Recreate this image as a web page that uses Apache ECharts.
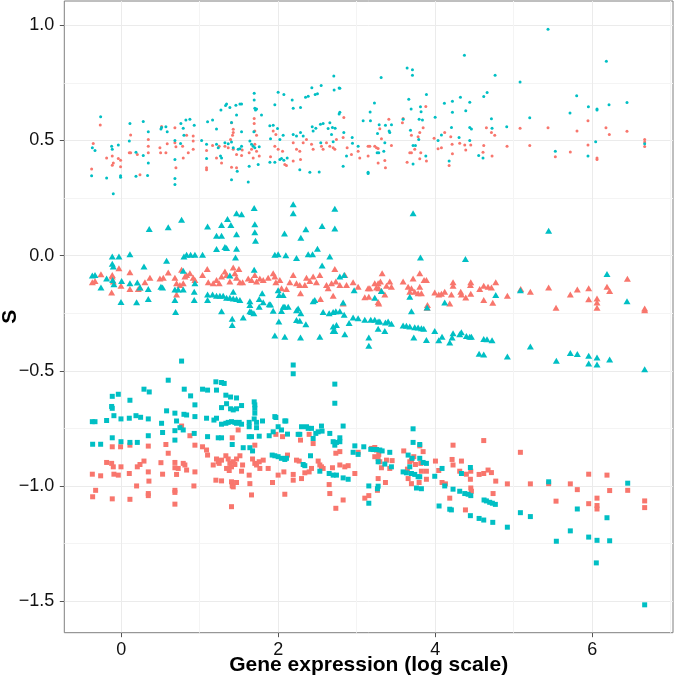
<!DOCTYPE html>
<html><head><meta charset="utf-8">
<script src="https://cdn.jsdelivr.net/npm/echarts@6/dist/echarts.min.js"></script>
<style>html,body{margin:0;padding:0;background:#fff}#c{width:674px;height:679px}</style>
</head><body><div id="c"></div>
<script>
const xMajorTicks = [0, 2, 4, 6];
const xMinorTicks = [1, 3, 5, 7];
const yMajorTicks = [-1.5, -1, -0.5, 0, 0.5, 1];
const yMinorTicks = [-1.25, -0.75, -0.25, 0.25, 0.75];
const xTitle = 'Gene expression (log scale)';
const yTitle = 'S';

const redDots = [
[-0.266,0.567],[-0.355,0.486],[-0.376,0.376],[-0.185,0.424],[-0.113,0.432],[-0.1,0.402],[-0.113,0.392],
[-0.036,0.421],[-0.007,0.414],[-0.007,0.385],[0.121,0.523],[0.104,0.446],[0.121,0.446],[0.206,0.439],[0.24,0.351],
[0.346,0.504],[0.346,0.475],[0.346,0.446],[0.515,0.56],[0.494,0.468],[0.503,0.446],[0.57,0.446],[0.587,0.485],
[0.685,0.555],[0.685,0.49],[0.698,0.381],[0.698,0.472],[0.834,0.522],[0.783,0.475],[0.791,0.424],[0.855,0.446],
[0.918,0.461],[0.918,0.519],[0.918,0.497],[1.088,0.456],[1.088,0.381],[1.088,0.373],[1.165,0.478],[1.215,0.424],
[1.249,0.475],[1.279,0.402],[1.322,0.475],[1.364,0.468],[1.394,0.504],[1.419,0.522],[1.428,0.461],[1.47,0.439],
[1.534,0.434],[1.542,0.458],[1.406,0.383],[1.47,0.381],[1.406,0.577],[1.428,0.548],[1.428,0.534],[1.631,0.446],
[1.661,0.461],[1.703,0.483],[1.725,0.453],[1.759,0.432],[1.682,0.424],[1.695,0.595],[1.695,0.573],[1.703,0.541],
[1.725,0.522],[1.903,0.429],[1.958,0.475],[2.0,0.461],[2.056,0.453],[2.085,0.395],[2.106,0.391],[1.937,0.541],
[1.971,0.526],[2.192,0.49],[2.234,0.461],[2.276,0.453],[2.319,0.49],[2.361,0.504],[2.425,0.483],[2.446,0.461],
[2.552,0.475],[2.573,0.461],[2.616,0.49],[2.658,0.475],[2.701,0.468],[2.722,0.461],[2.743,0.504],[2.828,0.512],
[2.837,0.599],[2.879,0.468],[2.934,0.439],[3.019,0.453],[3.04,0.424],[2.192,0.41],[2.285,0.417],
[3.41,0.592],[3.295,0.551],[3.316,0.507],[3.146,0.475],[3.168,0.475],[3.231,0.475],[3.253,0.468],[3.274,0.465],
[3.146,0.432],[3.274,0.402],[3.359,0.413],[3.367,0.381],[3.443,0.478],[3.583,0.577],[3.592,0.595],[3.698,0.522],
[3.783,0.516],[3.804,0.534],[3.847,0.555],[3.881,0.647],[3.74,0.461],[3.677,0.446],[3.698,0.446],[3.643,0.405],
[3.804,0.42],[3.889,0.41],[3.817,0.446],[3.987,0.509],[4.037,0.464],[4.08,0.468],[4.122,0.534],[4.199,0.516],
[4.216,0.483],[4.313,0.487],[4.377,0.48],[4.39,0.458],[4.454,0.48],[4.22,0.442],[4.178,0.391],[4.619,0.478],
[4.61,0.449],[4.725,0.432],[4.653,0.555],[4.717,0.534],[4.759,0.522],[4.916,0.475],[5.082,0.553],[5.205,0.478],
[5.438,0.555],[5.531,0.429],[5.722,0.45],[5.807,0.541],[5.947,0.585],[5.947,0.48],[6.062,0.424],[6.062,0.417],
[6.176,0.555],[6.219,0.526],[6.444,0.54],[6.669,0.504],[6.669,0.493],[6.669,0.473]
];

const tealDots = [
[-0.261,0.603],[0.112,0.573],[0.282,0.582],[0.346,0.538],[0.507,0.549],[0.515,0.556],[0.57,0.559],[0.587,0.537],
[0.761,0.573],[0.791,0.553],[0.825,0.589],[0.876,0.592],[0.931,0.566],[1.101,0.581],[1.165,0.588],[1.215,0.549],
[1.271,0.632],[1.33,0.651],[1.343,0.658],[1.385,0.643],[1.462,0.652],[1.513,0.658],[1.534,0.658],[1.47,0.61],
[1.406,0.578],[1.695,0.705],[1.695,0.675],[1.703,0.64],[1.725,0.636],[1.712,0.632],[1.788,0.61],[2.0,0.709],
[2.073,0.699],[1.958,0.655],[2.179,0.675],[2.192,0.639],[2.285,0.643],[2.349,0.687],[2.383,0.692],[2.429,0.728],
[2.472,0.699],[2.501,0.702],[2.548,0.738],[2.709,0.779],[2.713,0.719],[2.777,0.727],[2.777,0.614],[2.434,0.559],
[2.48,0.553],[2.637,0.552],[2.692,0.556],[2.726,0.553],[2.659,0.576],[1.894,0.563],[1.937,0.566],[1.992,0.552],
[2.539,0.57],[2.573,0.573],[1.691,0.538],[1.534,0.537],
[5.438,0.982],[4.373,0.869],[6.181,0.843],[3.643,0.814],[3.711,0.807],[3.711,0.783],[3.312,0.773],[4.764,0.783],
[5.082,0.753],[4.662,0.708],[4.619,0.69],[3.889,0.699],[3.664,0.678],[3.694,0.636],[3.813,0.646],[3.821,0.624],
[3.227,0.662],[3.172,0.623],[3.083,0.585],[4.118,0.661],[4.22,0.67],[4.322,0.687],[4.441,0.665],[4.39,0.629],
[4.22,0.622],[4.0,0.6],[4.717,0.594],[4.912,0.559],[5.205,0.598],[5.803,0.694],[5.718,0.619],[5.952,0.646],
[6.062,0.636],[6.062,0.632],[6.215,0.655],[6.444,0.664],[4.441,0.556],[4.462,0.549],[4.208,0.556],[3.686,0.544],
[3.796,0.592],[3.838,0.588],[3.592,0.592],[3.444,0.568],[3.422,0.534],[3.414,0.541],[3.266,0.53],[3.287,0.568],
[3.367,0.566],[3.176,0.585],[2.943,0.512],[2.837,0.534],[2.786,0.726],[2.786,0.622],
[-0.367,0.468],[-0.333,0.456],[-0.376,0.347],[-0.185,0.337],[-0.121,0.475],[-0.113,0.461],[-0.1,0.268],
[-0.036,0.48],[-0.007,0.347],[-0.007,0.34],[0.104,0.497],[0.189,0.449],[0.189,0.344],[0.282,0.434],[0.346,0.402],
[0.337,0.348],[0.685,0.5],[0.685,0.417],[0.685,0.334],[0.685,0.308],[0.8,0.522],[0.757,0.486],[1.025,0.5],
[1.088,0.483],[1.088,0.421],[1.215,0.483],[1.237,0.468],[1.279,0.424],[1.266,0.432],[1.322,0.49],[1.364,0.485],
[1.406,0.493],[1.428,0.468],[1.491,0.461],[1.534,0.475],[1.513,0.464],[1.406,0.329],[1.479,0.366],[1.619,0.319],
[1.631,0.388],[1.746,0.395],[1.64,0.497],[1.661,0.483],[1.682,0.475],[1.703,0.468],[1.759,0.472],[1.903,0.507],
[2.022,0.504],[2.064,0.522],[1.895,0.405],[1.958,0.405],[2.022,0.417],[2.043,0.421],[2.073,0.414],[2.115,0.424],
[2.192,0.526],[2.234,0.519],[2.285,0.534],[2.319,0.519],[2.276,0.373],[2.404,0.362],[2.523,0.363],[2.446,0.541],
[2.68,0.526],[2.543,0.49],[2.701,0.494],[2.828,0.388],[2.871,0.432],[2.947,0.487],[3.019,0.475],
[3.146,0.362],[3.146,0.356],[3.359,0.49],[3.346,0.453],[3.261,0.446],[3.282,0.446],[3.719,0.478],[3.749,0.478],
[3.719,0.398],[3.791,0.504],[3.881,0.432],[4.178,0.41],[4.305,0.512],[4.441,0.5],[4.555,0.434],[4.61,0.424],
[4.725,0.553],[5.531,0.453],[5.947,0.432],[6.045,0.494],[6.669,0.485],[4.08,0.523],[4.037,0.5]
];

const redTriangles = [
[-0.367,-0.116],[-0.333,-0.110],[-0.257,-0.081],[-0.113,-0.084],[-0.113,-0.091],[-0.1,-0.113],[-0.121,-0.160],
[-0.028,-0.055],[-0.002,-0.131],[0.112,-0.072],[0.112,-0.145],[0.24,-0.139],[0.218,-0.145],[0.303,-0.116],
[0.367,-0.096],[0.494,-0.099],[0.537,-0.096],[0.6,-0.074],[0.685,-0.096],[0.706,-0.120],[0.749,-0.128],
[0.77,-0.062],[0.812,-0.091],[0.834,-0.084],[0.876,-0.077],[0.918,-0.096],[0.94,-0.106],[0.706,-0.169],[0.791,-0.120],
[1.037,-0.084],[1.097,-0.058],[1.11,-0.116],[1.173,-0.120],[1.215,-0.106],[1.249,-0.120],[1.279,-0.091],[1.322,-0.069],
[1.343,-0.084],[1.385,-0.113],[1.428,-0.052],[1.449,-0.077],[1.47,-0.096],[1.5,-0.058],[1.513,-0.116],[1.547,-0.116],
[1.619,-0.099],[1.661,-0.106],[1.703,-0.084],[1.725,-0.113],[1.767,-0.099],[1.81,-0.106],[1.873,-0.096],[1.937,-0.077],
[1.958,-0.091],[1.971,-0.116],[2.022,-0.106],[2.043,-0.142],[2.106,-0.145],[2.149,-0.116],[2.192,-0.084],[2.234,-0.120],
[2.276,-0.128],[2.285,-0.164],[2.34,-0.128],[2.361,-0.096],[2.404,-0.110],[2.446,-0.091],[2.488,-0.116],[2.531,-0.084],
[2.539,-0.189],[2.616,-0.128],[2.637,-0.142],[2.68,-0.120],[2.701,-0.174],[2.722,-0.058],[2.735,-0.113],[2.786,-0.128],
[2.849,-0.084],[2.871,-0.128],[2.955,-0.116],[3.019,-0.135],[2.828,-0.208],
[3.325,-0.077],[3.303,-0.113],[3.274,-0.120],[3.231,-0.120],[3.253,-0.139],[3.282,-0.142],[3.168,-0.142],[3.146,-0.142],
[3.155,-0.179],[3.104,-0.181],[3.274,-0.201],[3.282,-0.208],[3.359,-0.169],[3.38,-0.131],[3.443,-0.135],[3.422,-0.113],
[3.316,-0.154],[3.592,-0.113],[3.656,-0.135],[3.677,-0.157],[3.698,-0.142],[3.719,-0.099],[3.74,-0.157],[3.783,-0.164],
[3.804,-0.135],[3.825,-0.164],[3.804,-0.077],[3.859,-0.106],[3.889,-0.106],[3.902,-0.215],[3.898,-0.227],[3.995,-0.160],
[4.046,-0.169],[4.08,-0.166],[4.122,-0.157],[4.186,-0.208],[4.207,-0.169],[4.228,-0.116],[4.228,-0.131],[4.326,-0.157],
[4.335,-0.169],[4.39,-0.182],[4.454,-0.166],[4.454,-0.116],[4.449,-0.128],[4.568,-0.145],[4.619,-0.131],[4.619,-0.193],
[4.674,-0.135],[4.717,-0.139],[4.734,-0.205],[4.772,-0.116],[4.92,-0.174],[5.09,-0.145],[5.213,-0.157],[5.446,-0.139],
[5.54,-0.227],[5.722,-0.169],[5.811,-0.147],[5.956,-0.142],[5.956,-0.190],[6.062,-0.186],[6.062,-0.204],[6.062,-0.227],
[6.189,-0.135],[6.223,-0.154],[6.449,-0.101],[6.669,-0.230],[6.669,-0.237]
];

const tealTriangles = [
[-0.367,-0.087],[-0.333,-0.084],[-0.257,-0.139],[-0.185,-0.099],[-0.113,-0.004],[-0.113,-0.036],[-0.1,-0.047],
[-0.028,-0.004],[-0.108,-0.106],[-0.092,-0.125],[-0.002,-0.201],[0.006,-0.110],[0.112,0.006],[0.112,-0.120],
[0.197,-0.203],[0.206,-0.117],[0.24,-0.139],[0.291,-0.047],[0.346,-0.145],[0.346,-0.189],[0.358,0.115],[0.507,-0.135],
[0.528,-0.139],[0.579,-0.023],[0.6,0.123],[0.685,-0.147],[0.685,-0.193],[0.694,-0.245],[0.727,-0.147],[0.791,-0.147],
[0.77,0.155],[0.791,-0.066],[0.8,-0.004],[0.834,0.004],[0.885,0.004],[0.94,0.004],[1.037,0.004],[0.94,-0.120],
[0.931,-0.157],[0.931,-0.193],[1.101,0.126],[1.101,-0.169],[1.101,-0.193],[1.165,-0.169],[1.215,-0.174],[1.258,-0.174],
[1.3,-0.174],[1.343,-0.183],[1.385,-0.183],[1.428,-0.186],[1.47,-0.189],[1.513,-0.193],[1.215,0.028],[1.279,0.133],
[1.279,0.086],[1.215,0.086],[1.322,0.037],[1.343,0.033],[1.355,0.159],[1.398,0.133],[1.47,0.184],[1.534,0.179],
[1.47,0.092],[1.47,0.030],[1.457,-0.008],[1.385,-0.087],[1.279,-0.242],[1.415,-0.274],[1.415,-0.301],[1.555,-0.269],
[1.428,-0.157],[1.64,-0.198],[1.64,-0.215],[1.661,-0.245],[1.691,-0.250],[1.64,-0.242],[1.695,0.206],[1.703,0.136],
[1.703,0.101],[1.712,0.064],[1.695,-0.062],[1.759,-0.189],[1.759,-0.222],[1.797,-0.164],[1.81,-0.203],[1.886,-0.211],
[1.903,-0.212],[1.937,-0.240],[2.0,-0.150],[2.009,-0.286],[2.043,-0.241],[2.064,-0.222],[2.085,-0.222],[2.128,-0.222],
[2.255,-0.230],[2.234,-0.237],[2.234,-0.280],[2.276,-0.283],[2.353,-0.298],[2.289,-0.250],[1.958,0.004],[2.0,0.006],
[2.098,0.001],[2.081,0.096],[2.192,0.223],[2.192,0.184],[2.234,-0.011],[2.289,0.077],[2.353,0.114],[2.383,0.006],
[2.438,0.006],[2.501,0.030],[2.56,0.128],[2.722,0.203],[2.722,0.118],[2.658,-0.004],[2.56,-0.043],[1.958,-0.347],
[2.085,-0.352],[2.285,-0.356],[2.531,-0.352],[2.701,-0.327],[2.722,-0.327],[2.849,-0.341],[2.013,-0.171],[2.064,-0.171],
[2.467,-0.193],[2.446,-0.198],[2.573,-0.245],[2.65,-0.250],[2.701,-0.245],[2.735,-0.242],[2.786,-0.242],[2.841,-0.257],
[2.701,-0.308],[2.743,-0.301],[2.828,-0.204],[2.904,-0.293],[2.955,-0.269],[3.019,-0.272],[2.786,-0.091],[2.841,-0.084],
[2.968,-0.150],
[3.719,0.184],[3.813,-0.008],[4.386,-0.015],[5.446,0.108],[6.189,-0.080],[5.086,-0.150],[4.772,-0.171],[6.444,-0.198],
[3.231,-0.183],[3.316,-0.154],[3.677,-0.179],[4.122,-0.204],[3.698,-0.242],[3.898,-0.225],[3.104,-0.279],[3.18,-0.279],
[3.231,-0.279],[3.274,-0.286],[3.295,-0.286],[3.367,-0.290],[3.401,-0.286],[3.443,-0.296],[3.592,-0.304],[3.634,-0.305],
[3.677,-0.308],[3.74,-0.311],[3.783,-0.312],[3.825,-0.315],[3.855,-0.318],[3.274,-0.318],[3.155,-0.356],[3.155,-0.391],
[3.359,-0.327],[3.728,-0.356],[3.889,-0.366],[3.995,-0.327],[4.046,-0.368],[4.088,-0.352],[4.186,-0.377],[4.216,-0.356],
[4.228,-0.337],[4.313,-0.341],[4.334,-0.333],[4.398,-0.349],[4.441,-0.352],[4.462,-0.352],[4.619,-0.362],[4.661,-0.363],
[4.725,-0.368],[4.56,-0.426],[4.619,-0.429],[4.92,-0.438],[5.213,-0.395],[5.544,-0.457],[5.722,-0.423],[5.811,-0.427],
[5.956,-0.435],[6.062,-0.442],[5.956,-0.468],[6.062,-0.473],[6.223,-0.451],[6.669,-0.493]
];

const redSquares = [
[-0.367,-0.949],[-0.363,-1.047],[-0.325,-1.019],[-0.261,-0.956],[-0.185,-0.898],[-0.121,-0.902],[-0.113,-0.830],
[-0.1,-0.917],[-0.092,-0.949],[-0.113,-1.056],[-0.036,-0.953],[-0.007,-0.830],[-0.002,-0.917],[0.104,-0.946],
[0.112,-0.823],[0.112,-1.058],[0.197,-1.000],[0.206,-0.917],[0.24,-0.907],[0.291,-0.892],[0.346,-0.827],[0.346,-0.939],
[0.354,-0.979],[0.346,-1.033],[0.346,-1.042],[0.507,-0.899],[0.528,-0.949],[0.57,-0.820],[0.6,-0.858],[0.685,-0.898],
[0.685,-0.921],[0.685,-1.019],[0.685,-1.028],[0.685,-1.079],[0.706,-0.950],[0.727,-0.924],[0.791,-0.902],[0.812,-0.909],
[0.834,-0.931],[0.77,-0.740],[0.876,-0.782],[0.94,-0.823],[0.94,-0.939],[0.927,-1.000],[1.037,-0.830],[1.088,-0.844],
[1.101,-0.866],[1.173,-0.909],[1.215,-0.883],[1.237,-0.895],[1.249,-0.902],[1.279,-0.888],[1.334,-0.869],[1.364,-0.883],
[1.385,-0.902],[1.406,-0.917],[1.415,-0.791],[1.428,-0.895],[1.449,-0.907],[1.47,-0.883],[1.491,-0.757],[1.513,-0.869],
[1.534,-0.936],[1.547,-0.909],[1.207,-0.975],[1.279,-0.978],[1.406,-0.982],[1.415,-1.000],[1.428,-1.004],[1.47,-0.985],
[1.343,-0.924],[1.377,-0.933],[1.406,-1.090],[1.631,-0.953],[1.64,-0.990],[1.661,-1.039],[1.674,-0.883],[1.703,-0.823],
[1.703,-0.902],[1.725,-0.909],[1.759,-0.895],[1.767,-0.924],[1.81,-0.888],[1.873,-0.924],[1.928,-0.985],[1.971,-0.776],
[2.0,-0.953],[2.056,-0.786],[2.073,-0.939],[2.085,-1.036],[2.119,-0.866],[2.192,-0.950],[2.192,-0.975],[2.234,-0.888],
[2.268,-0.892],[2.285,-0.801],[2.298,-0.968],[2.34,-0.943],[2.395,-0.776],[2.395,-0.939],[2.425,-0.924],[2.446,-0.816],
[2.51,-0.892],[2.531,-0.909],[2.552,-0.917],[2.573,-0.924],[2.65,-0.994],[2.658,-1.033],[2.692,-0.921],[2.735,-0.858],
[2.735,-1.097],[2.786,-0.851],[2.786,-0.909],[2.828,-1.061],[2.849,-0.917],[2.892,-0.912],[2.977,-0.946],[3.019,-0.854],
[3.189,-0.837],[3.231,-0.833],[3.253,-0.844],[3.282,-0.863],[3.231,-0.873],[3.274,-0.880],[3.295,-0.895],[3.316,-0.921],
[3.38,-0.888],[3.422,-0.924],[3.452,-0.890],[3.274,-0.968],[3.367,-0.985],[3.104,-1.053],[3.155,-1.042],[3.265,-1.019],
[3.6,-0.848],[3.677,-0.895],[3.698,-0.888],[3.728,-0.873],[3.749,-0.907],[3.804,-0.826],[3.847,-0.851],[3.817,-0.902],
[3.825,-0.936],[3.889,-0.936],[3.656,-0.968],[3.698,-0.990],[3.796,-0.985],[3.889,-0.971],[3.647,-0.927],
[4.004,-0.892],[4.046,-0.933],[4.088,-0.985],[4.131,-0.991],[4.186,-1.053],[4.216,-0.885],[4.228,-0.823],[4.228,-0.909],
[4.313,-0.936],[4.335,-0.892],[4.398,-0.949],[4.386,-1.104],[4.454,-0.936],[4.449,-0.971],[4.454,-1.009],[4.462,-1.023],
[4.56,-0.950],[4.619,-0.803],[4.619,-0.946],[4.674,-0.931],[4.717,-0.942],[4.738,-1.033],[4.772,-0.979],
[4.92,-0.991],[5.086,-0.854],[5.213,-0.991],[5.446,-0.990],[5.54,-1.066],[5.722,-0.991],[5.811,-1.016],[5.956,-0.949],
[5.956,-1.077],[6.062,-1.053],[6.062,-1.085],[6.062,-1.100],[6.189,-0.953],[6.223,-1.020],[6.453,-1.019],[6.669,-1.065],
[6.669,-1.094]
];

const tealSquares = [
[-0.367,-0.721],[-0.333,-0.721],[-0.363,-0.819],[-0.261,-0.819],[-0.185,-0.716],[-0.113,-0.611],[-0.036,-0.602],
[-0.121,-0.655],[-0.113,-0.663],[-0.092,-0.695],[-0.113,-0.791],[-0.002,-0.709],[-0.002,-0.808],[0.104,-0.706],
[0.112,-0.628],[0.112,-0.811],[0.189,-0.695],[0.206,-0.811],[0.248,-0.702],[0.291,-0.580],[0.358,-0.592],[0.346,-0.709],
[0.346,-0.782],[0.515,-0.728],[0.528,-0.768],[0.579,-0.674],[0.6,-0.541],[0.685,-0.684],[0.706,-0.718],[0.685,-0.760],
[0.685,-0.801],[0.749,-0.747],[0.791,-0.757],[0.804,-0.580],[0.885,-0.609],[0.94,-0.648],[0.8,-0.689],[0.834,-0.692],
[0.94,-0.699],[0.931,-0.772],[0.77,-0.458],[1.037,-0.580],[1.101,-0.584],[1.215,-0.584],[1.207,-0.548],[1.279,-0.551],
[1.313,-0.555],[1.334,-0.606],[1.394,-0.614],[1.47,-0.618],[1.279,-0.660],[1.394,-0.665],[1.428,-0.670],[1.47,-0.665],
[1.534,-0.651],[1.343,-0.643],[1.088,-0.706],[1.182,-0.714],[1.215,-0.706],[1.279,-0.732],[1.334,-0.728],[1.364,-0.724],
[1.406,-0.721],[1.449,-0.724],[1.47,-0.728],[1.504,-0.724],[1.534,-0.732],[1.101,-0.786],[1.237,-0.791],[1.279,-0.791],
[1.415,-0.820],[1.555,-0.834],[1.64,-0.834],[1.674,-0.848],[1.631,-0.724],[1.631,-0.743],[1.695,-0.635],[1.703,-0.648],
[1.703,-0.663],[1.703,-0.684],[1.695,-0.709],[1.725,-0.724],[1.725,-0.747],[1.801,-0.718],[1.631,-0.786],[1.661,-0.786],
[1.759,-0.784],[1.886,-0.782],[1.937,-0.765],[1.958,-0.699],[1.971,-0.703],[2.0,-0.743],[2.043,-0.757],[2.085,-0.718],
[2.098,-0.718],[2.119,-0.775],[2.192,-0.513],[2.192,-0.475],[2.255,-0.776],[2.276,-0.776],[2.298,-0.743],[2.361,-0.743],
[2.383,-0.750],[2.425,-0.750],[2.446,-0.794],[2.48,-0.772],[2.51,-0.765],[2.552,-0.740],[2.56,-0.762],[2.658,-0.772],
[2.722,-0.558],[2.722,-0.641],[2.828,-0.740],[2.701,-0.808],[2.722,-0.823],[2.743,-0.811],[2.786,-0.791],[2.786,-0.808],
[1.924,-0.866],[1.958,-0.869],[2.0,-0.873],[2.043,-0.880],[2.085,-0.885],[2.106,-0.880],[2.319,-0.907],[2.34,-0.912],
[2.412,-0.869],[2.531,-0.936],[2.65,-0.946],[2.701,-0.953],[2.743,-0.953],[2.828,-0.965],[2.892,-0.971],[2.955,-0.854],
[3.019,-0.863],[2.977,-0.826],[3.091,-0.830],
[3.719,-0.752],[3.719,-0.811],[3.804,-0.820],[3.18,-0.841],[3.21,-0.842],[3.253,-0.842],[3.295,-0.844],[3.325,-0.848],
[3.422,-0.854],[3.274,-0.895],[3.359,-0.905],[3.443,-0.917],[3.656,-0.866],[3.707,-0.880],[3.677,-0.917],[3.698,-0.946],
[3.74,-0.950],[3.804,-0.880],[3.804,-0.960],[3.847,-0.898],[3.889,-0.902],[3.592,-0.939],[3.634,-0.943],[3.783,-0.960],
[3.155,-1.000],[3.155,-1.075],[3.274,-1.001],[3.265,-1.012],[3.762,-1.009],[3.825,-1.012],[3.995,-0.958],[4.088,-0.924],
[4.122,-1.000],[4.228,-1.014],[4.313,-1.023],[4.377,-1.033],[4.42,-1.036],[4.454,-1.042],[4.335,-0.946],[4.449,-0.920],
[4.05,-1.087],[4.186,-1.101],[4.207,-1.104],[4.449,-1.129],[4.56,-1.141],[4.619,-1.148],[4.734,-1.158],[4.92,-1.179],
[4.623,-1.061],[4.653,-1.065],[4.695,-1.071],[4.729,-1.075],[4.767,-1.080],[5.086,-1.116],[5.213,-1.133],[5.446,-0.982],
[5.544,-1.240],[5.722,-1.195],[5.811,-1.100],[5.956,-1.222],[6.062,-1.236],[6.053,-1.334],[6.189,-1.138],[6.223,-1.238],
[6.453,-0.988],[6.669,-1.516]
];

const RED = '#F8766D', TEAL = '#00BFC4';
const FONT = '"Liberation Sans", Arial, Helvetica, sans-serif';
const X_MIN = -0.724, X_MAX = 7.03, Y_MIN = -1.637, Y_MAX = 1.105;

function fmtY(v){ const a = Math.abs(v).toFixed(1); return v < 0 ? '\u2212' + a : a; }

const chart = echarts.init(document.getElementById('c'), null, {renderer:'canvas'});
function sc(name, data, color, symbol, size){
  return {name, type:'scatter', data, symbol, symbolSize:size, xAxisIndex:0, yAxisIndex:0,
    itemStyle:{color, opacity:1}, emphasis:{disabled:true}, animation:false};
}
chart.setOption({
  animation:false,
  backgroundColor:'#ffffff',
  grid:{left:64.3, right:1, top:1, bottom:46.3, containLabel:false, outerBoundsMode:'none',
        show:true, borderColor:'#7f7f7f', borderWidth:1, backgroundColor:'transparent'},
  xAxis:[{
    type:'value', min:X_MIN, max:X_MAX,
    name:xTitle, nameLocation:'middle', nameGap:22, nameMoveOverlap:false,
    nameTextStyle:{fontFamily:FONT, fontWeight:'bold', fontSize:21, color:'#000'},
    axisLine:{show:false, onZero:false},
    axisTick:{show:true, length:4.5, customValues:xMajorTicks, lineStyle:{color:'#555'}},
    axisLabel:{customValues:xMajorTicks, margin:8, fontFamily:FONT, fontSize:18, color:'#111'},
    splitLine:{show:true, lineStyle:{color:'#EBEBEB', width:1}}
  },{
    type:'value', min:X_MIN, max:X_MAX, position:'bottom',
    axisLine:{show:false, onZero:false}, axisLabel:{show:false},
    axisTick:{show:false, customValues:xMinorTicks},
    splitLine:{show:true, lineStyle:{color:'#F4F4F4', width:1}}
  }],
  yAxis:[{
    type:'value', min:Y_MIN, max:Y_MAX,
    name:yTitle, nameLocation:'middle', nameGap:44, nameRotate:90, nameMoveOverlap:false,
    nameTextStyle:{fontFamily:FONT, fontWeight:'bold', fontSize:21, color:'#000'},
    axisLine:{show:false, onZero:false},
    axisTick:{show:true, length:4.5, customValues:yMajorTicks, lineStyle:{color:'#555'}},
    axisLabel:{customValues:yMajorTicks, margin:10, formatter:fmtY, fontFamily:FONT, fontSize:18, color:'#111'},
    splitLine:{show:true, lineStyle:{color:'#EBEBEB', width:1}}
  },{
    type:'value', min:Y_MIN, max:Y_MAX, position:'left',
    axisLine:{show:false, onZero:false}, axisLabel:{show:false},
    axisTick:{show:false, customValues:yMinorTicks},
    splitLine:{show:true, lineStyle:{color:'#F4F4F4', width:1}}
  }],
  series:[
    sc('redDots', redDots, RED, 'circle', 3),
    sc('tealDots', tealDots, TEAL, 'circle', 3),
    sc('redTriangles', redTriangles, RED, 'triangle', [7,6]),
    sc('tealTriangles', tealTriangles, TEAL, 'triangle', [7,6]),
    sc('redSquares', redSquares, RED, 'rect', 5),
    sc('tealSquares', tealSquares, TEAL, 'rect', 5)
  ]
});
</script></body></html>
